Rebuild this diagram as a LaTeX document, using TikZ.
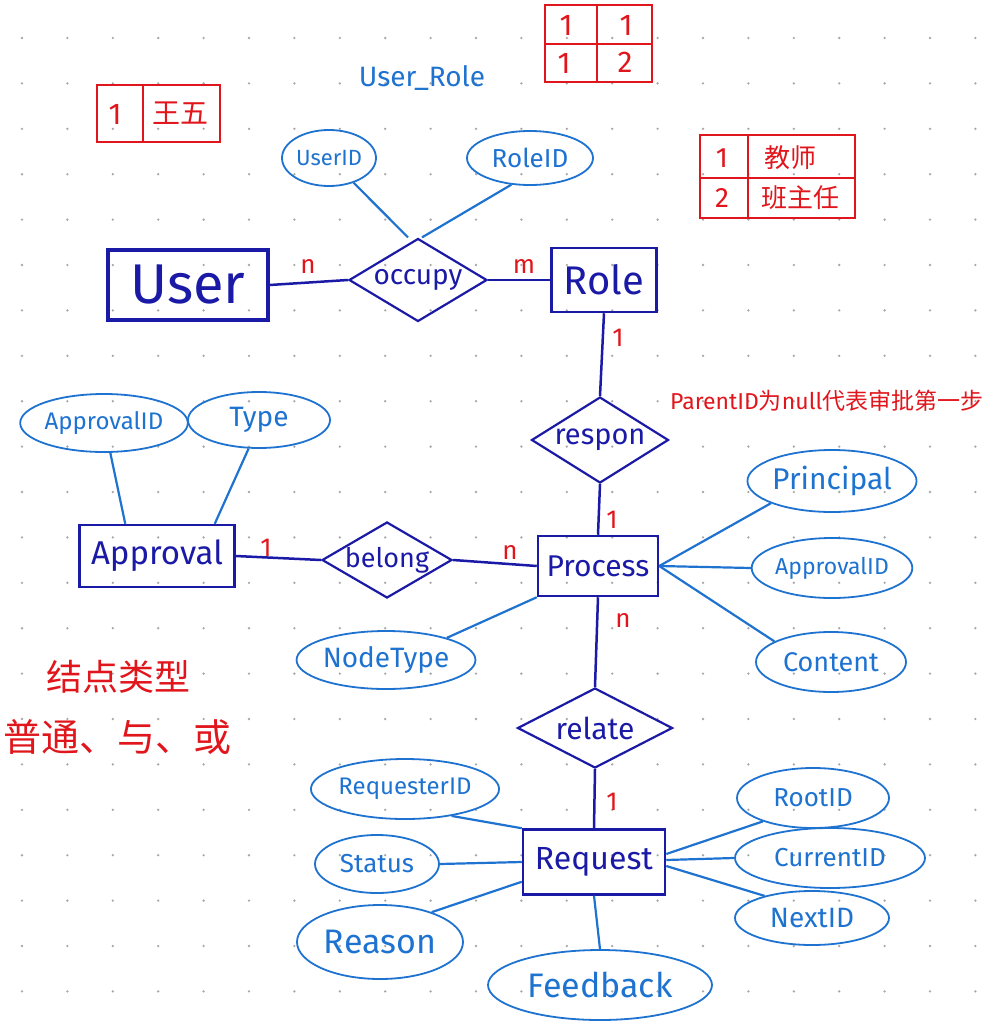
\documentclass[tikz,border=0pt]{standalone}
\usepackage{fontspec}
\setmainfont{Fira Sans}
\newfontfamily\cjk{Noto Sans CJK SC}
\usetikzlibrary{shapes.geometric}
\definecolor{ent}{HTML}{1A1AA6}
\definecolor{att}{HTML}{1E72D0}
\definecolor{rd}{HTML}{E0161C}
\definecolor{dotc}{HTML}{A8A8A8}
\newcommand{\fsz}[1]{\fontsize{#1}{#1}\selectfont}
\begin{document}
\begin{tikzpicture}[x=1pt,y=-1pt,
 entity/.style={draw=ent, line width=2.5pt, text=ent, rectangle, inner sep=0pt},
 rel/.style={draw=ent, line width=2.2pt, text=ent, diamond, inner sep=0pt},
 attr/.style={draw=att, line width=1.8pt, text=att, ellipse, inner sep=0pt},
 eline/.style={draw=ent, line width=2.5pt},
 aline/.style={draw=att, line width=2.2pt},
 card/.style={text=rd, font=\fsz{26}},
 redline/.style={draw=rd, line width=2.2pt},
 redtxt/.style={text=rd, inner sep=0pt}
]
\useasboundingbox (0,0) rectangle (1000,1025);
% dot grid
\foreach \i in {0,...,21}{
  \foreach \j in {0,...,21}{
    \fill[dotc] (22+45.4*\i, 38+45.4*\j) circle (1.3);
  }
}

% ---- red tables ----
\draw[redline] (545,5) rectangle (652,82);
\draw[redline] (597,5) -- (597,82);
\draw[redline] (545,44) -- (652,44);
\node[redtxt, font=\fsz{30}] (t1a) at (566,25) {1};
\node[redtxt, font=\fsz{30}] (t1b) at (626,25) {1};
\node[redtxt, font=\fsz{30}] (t1c) at (564,63) {1};
\node[redtxt, font=\fsz{30}] (t1d) at (625,62) {2};

\draw[redline] (97,85) rectangle (220,142);
\draw[redline] (143,85) -- (143,142);
\node[redtxt, font=\fsz{30}] (t2a) at (115,114) {1};
\node[redtxt, font=\cjk\fsz{28}] (t2b) at (180,113) {王五};

\draw[redline] (700,135) rectangle (855,218);
\draw[redline] (748,135) -- (748,218);
\draw[redline] (700,178) -- (855,178);
\node[redtxt, font=\fsz{28}] (t3a) at (722,158) {1};
\node[redtxt, font=\cjk\fsz{26}] (t3b) at (790,158) {教师};
\node[redtxt, font=\fsz{28}] (t3c) at (722,198) {2};
\node[redtxt, font=\cjk\fsz{26}] (t3d) at (800,198) {班主任};

% ---- notes ----
\node[text=att, inner sep=0pt, font=\fsz{28}] (urlabel) at (422,78) {User\_Role};
\node[redtxt, anchor=west, font=\fsz{23}] (note1) at (670,401) {ParentID{\cjk 为}null{\cjk 代表审批第一步}};
\node[redtxt, font=\cjk\fsz{36}] (note2) at (118,677) {结点类型};
\node[redtxt, font=\cjk\fsz{38}] (note3) at (117,737) {普通、与、或};

% ---- entities ----
\node[entity, line width=3.2pt, minimum width=160pt, minimum height=70pt, font=\fsz{56}] (user) at (188,285) {User};
\node[entity, minimum width=105pt, minimum height=64pt, font=\fsz{40}] (role) at (604,280) {Role};
\node[entity, minimum width=155pt, minimum height=62pt, font=\fsz{33}] (approval) at (157,556) {Approval};
\node[entity, minimum width=120pt, minimum height=60pt, font=\fsz{30}] (process) at (598,566) {Process};
\node[entity, minimum width=142pt, minimum height=65pt, font=\fsz{32}] (request) at (594,862) {Request};

% ---- relationships ----
\node[rel, aspect=1.66, minimum width=138pt, minimum height=83pt, font=\fsz{28}] (occupy) at (418,280) {occupy};
\node[rel, aspect=1.6, minimum width=137pt, minimum height=86pt, font=\fsz{29}] (respon) at (600,440) {respon};
\node[rel, aspect=1.7, minimum width=130pt, minimum height=76pt, font=\fsz{27}] (belong) at (387,560) {belong};
\node[rel, aspect=1.94, minimum width=155pt, minimum height=80pt, font=\fsz{30}] (relate) at (595,728) {relate};

% ---- attributes ----
\node[attr, minimum width=94pt, minimum height=56pt, font=\fsz{22}] (userid) at (329,158) {UserID};
\node[attr, minimum width=126pt, minimum height=54pt, font=\fsz{26}] (roleid) at (530,158) {RoleID};
\node[attr, minimum width=158pt, minimum height=58pt, font=\fsz{24}] (apid1) at (104,423) {ApprovalID};
\node[attr, minimum width=142pt, minimum height=56pt, font=\fsz{28}] (type) at (259,420) {Type};
\node[attr, minimum width=154pt, minimum height=62pt, font=\fsz{30}] (principal) at (832,481) {Principal};
\node[attr, minimum width=150pt, minimum height=60pt, font=\fsz{23}] (apid2) at (832,568) {ApprovalID};
\node[attr, minimum width=150pt, minimum height=60pt, font=\fsz{27}] (content) at (831,662) {Content};
\node[attr, minimum width=156pt, minimum height=58pt, font=\fsz{28}] (nodetype) at (386,660) {NodeType};
\node[attr, minimum width=186pt, minimum height=60pt, font=\fsz{24}] (reqid) at (405,789) {RequesterID};
\node[attr, minimum width=124pt, minimum height=58pt, font=\fsz{26}] (status) at (377,864) {Status};
\node[attr, minimum width=166pt, minimum height=74pt, font=\fsz{34}] (reason) at (380,942) {Reason};
\node[attr, minimum width=224pt, minimum height=70pt, font=\fsz{34}] (feedback) at (600,985) {Feedback};
\node[attr, minimum width=152pt, minimum height=60pt, font=\fsz{26}] (rootid) at (813,798) {RootID};
\node[attr, minimum width=190pt, minimum height=60pt, font=\fsz{26}] (currentid) at (830,858) {CurrentID};
\node[attr, minimum width=154pt, minimum height=54pt, font=\fsz{28}] (nextid) at (812,918) {NextID};

% ---- entity/relationship connectors ----
\draw[eline] (user.east) -- (occupy.west);
\draw[eline] (occupy.east) -- (role.west);
\draw[eline] (role.south) -- (respon.north);
\draw[eline] (respon.south) -- (process.north);
\draw[eline] (approval.east) -- (belong.west);
\draw[eline] (belong.east) -- (process.west);
\draw[eline] (process.south) -- (relate.north);
\draw[eline] (relate.south) -- (request.north);

% ---- attribute connectors ----
\draw[aline] (userid) -- ([xshift=-10pt]occupy.north);
\draw[aline] (roleid.235) -- ([xshift=4pt]occupy.north);
\draw[aline] (apid1) -- ([xshift=47pt]approval.north west);
\draw[aline] (type.250) -- ([xshift=-21pt]approval.north east);
\draw[aline] (process.east) -- (principal.200);
\draw[aline] (process.east) -- (apid2.west);
\draw[aline] (process.east) -- (content.160);
\draw[aline] (nodetype.20) -- (process.south west);
\draw[aline] (reqid.330) -- (request.north west);
\draw[aline] (status.east) -- (request.west);
\draw[aline] (reason.30) -- ([yshift=14pt]request.south west);
\draw[aline] (feedback.north) -- (request.south);
\draw[aline] (rootid.205) -- ([yshift=8pt]request.east);
\draw[aline] (currentid.west) -- ([yshift=2pt]request.east);
\draw[aline] (nextid.155) -- ([yshift=-4pt]request.east);

% ---- cardinalities ----
\node[card] (c1) at (308,266) {n};
\node[card] (c2) at (524,266) {m};
\node[card] (c3) at (618,338) {1};
\node[card] (c4) at (612,520) {1};
\node[card] (c5) at (266,548) {1};
\node[card] (c6) at (510,552) {n};
\node[card] (c7) at (623,620) {n};
\node[card] (c8) at (612,802) {1};
\end{tikzpicture}
\end{document}
